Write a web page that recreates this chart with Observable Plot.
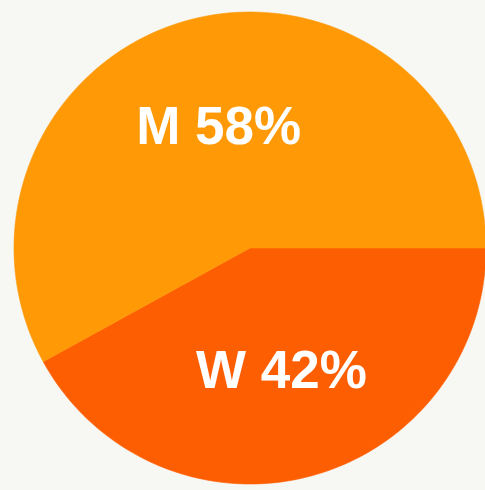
<!DOCTYPE html>
<html>
<head>
<meta charset="utf-8">
<script src="https://cdn.jsdelivr.net/npm/d3@7"></script>
<script src="https://cdn.jsdelivr.net/npm/@observablehq/plot@0.6"></script>
<style>
  html, body { margin: 0; padding: 0; background: #f7f7f4; }
  #chart svg { display: block; }
</style>
</head>
<body>
<div id="chart"></div>
<script>
// Data
const categories = ["W", "M"];
const values = [42, 58];
const sliceColors = ["#fe5e02", "#ff9906"];

const data = categories.map((c, i) => ({category: c, value: values[i]}));

// Pie angles (d3: clockwise from 12 o'clock); start at 3 o'clock
const pie = d3.pie().sort(null).value(d => d.value)
  .startAngle(Math.PI / 2).endAngle(Math.PI / 2 + 2 * Math.PI);
const arcs = pie(data);

// Polygon vertices in unit space (y down)
const pts = [];
const N = 240;
arcs.forEach(a => {
  const cat = a.data.category;
  pts.push({category: cat, x: 0, y: 0});
  const steps = Math.max(2, Math.ceil(N * (a.endAngle - a.startAngle) / (2 * Math.PI)));
  for (let k = 0; k <= steps; k++) {
    const t = a.startAngle + (a.endAngle - a.startAngle) * k / steps;
    pts.push({category: cat, x: Math.sin(t), y: -Math.cos(t)});
  }
  pts.push({category: cat, x: 0, y: 0});
});

const labels = arcs.map(a => {
  const m = (a.startAngle + a.endAngle) / 2;
  const rr = 0.535;
  return {x: rr * Math.sin(m), y: -rr * Math.cos(m), text: `${a.data.category} ${a.data.value}%`};
});

const cx = 249.5, cy = 247.5, r = 236;

const chart = Plot.plot({
  width: 485,
  height: 490,
  margin: 0,
  style: {background: "#f7f7f4", overflow: "visible"},
  x: {domain: [-1, 1], range: [cx - r, cx + r], axis: null},
  y: {domain: [-1, 1], range: [cy - r, cy + r], axis: null},
  color: {domain: categories, range: sliceColors},
  marks: [
    Plot.line(pts, {x: "x", y: "y", z: "category", fill: "category", stroke: "category", strokeWidth: 0.6, curve: "linear"}),
    Plot.text(labels, {
      x: "x", y: "y", text: "text",
      fill: "white",
      fontSize: 53,
      fontWeight: "bold",
      fontFamily: "Liberation Sans, Arial, Helvetica, sans-serif",
      textAnchor: "middle",
      dy: 1
    })
  ]
});
document.getElementById("chart").append(chart);
</script>
</body>
</html>
